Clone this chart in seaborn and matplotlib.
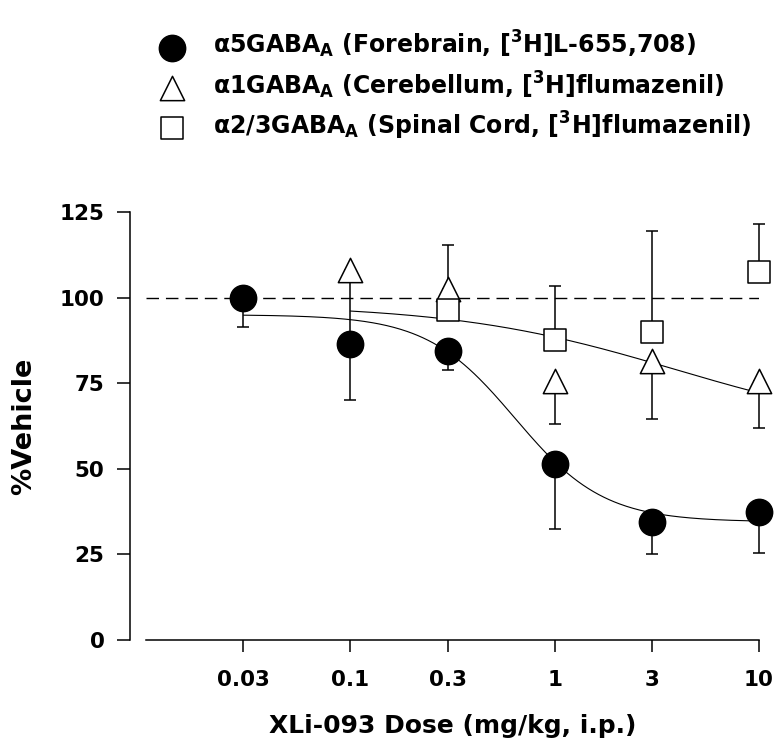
import numpy as np
import pandas as pd
import matplotlib
matplotlib.use("Agg")
import matplotlib.pyplot as plt
from matplotlib.ticker import NullLocator
import seaborn as sns

# Doses (mg/kg, i.p.) and receptor occupancy expressed as % of vehicle
dose_a5 = [0.03, 0.1, 0.3, 1, 3, 10]
mean_a5 = [100, 86.5, 84.5, 51.5, 34.5, 37.5]
low_a5 = [91.5, 70, 79, 32.5, 25, 25.5]

dose_a1 = [0.1, 0.3, 1, 3, 10]
mean_a1 = [108.0, 102.5, 75.5, 81.5, 75.5]
low_a1 = [87, 95, 63, 64.5, 62]

dose_a23 = [0.3, 1, 3, 10]
mean_a23 = [96.5, 87.5, 90, 107.5]
high_a23 = [115.5, 103.5, 119.5, 121.5]

# Sigmoidal (Hill) fit parameters for the two dose-response curves
fit_a5 = {"top": 95.0, "bottom": 34.5, "ec50": 0.64, "hill": 2.0, "start": 0.03, "stop": 10}
fit_a123 = {"top": 98.0, "bottom": 60.0, "ec50": 3.9, "hill": 0.8, "start": 0.1, "stop": 10}

x_ticks = [0.03, 0.1, 0.3, 1, 3, 10]
x_ticklabels = ["0.03", "0.1", "0.3", "1", "3", "10"]
y_ticks = [0, 25, 50, 75, 100, 125]

lab_a5 = r"α5GABA$_{A}$ (Forebrain, [$^{3}$H]L-655,708)"
lab_a1 = r"α1GABA$_{A}$ (Cerebellum, [$^{3}$H]flumazenil)"
lab_a23 = r"α2/3GABA$_{A}$ (Spinal Cord, [$^{3}$H]flumazenil)"
x_label = "XLi-093 Dose (mg/kg, i.p.)"
y_label = "%Vehicle"

sns.set_theme(style="ticks")
plt.rcParams["font.family"] = ["DejaVu Sans"]
plt.rcParams["font.weight"] = "bold"
plt.rcParams["mathtext.fontset"] = "dejavusans"
plt.rcParams["mathtext.default"] = "bf"
plt.rcParams["axes.linewidth"] = 1.1
for key in ("text.color", "axes.labelcolor", "axes.edgecolor",
            "xtick.color", "ytick.color"):
    plt.rcParams[key] = "black"

W, H = 775, 745
fig = plt.figure(figsize=(W / 100, H / 100), dpi=100)
ax = fig.add_axes([146 / W, 1 - 640 / H, (759 - 146) / W, (640 - 212) / H])
ax.set_xscale("log")


def hill_curve(p, n=300):
    xs = np.logspace(np.log10(p["start"]), np.log10(p["stop"]), n)
    ys = p["bottom"] + (p["top"] - p["bottom"]) / (1 + (xs / p["ec50"]) ** p["hill"])
    return pd.DataFrame({"dose": xs, "pct": ys})


# reference line at 100 % of vehicle
ref = ax.axhline(100, color="black", lw=1.0, zorder=1)
ref.set_dashes((9, 5))

# fitted curves
for p in (fit_a5, fit_a123):
    sns.lineplot(data=hill_curve(p), x="dose", y="pct", color="black",
                 lw=0.8, ax=ax, zorder=2, legend=False)

err_kw = dict(fmt="none", ecolor="black", elinewidth=1.1, capsize=4,
              capthick=1.1, zorder=2.5, clip_on=False, label="_nolegend_")
m5, l5 = np.array(mean_a5), np.array(low_a5)
ax.errorbar(dose_a5, m5, yerr=[m5 - l5, np.zeros_like(m5)], **err_kw)
m1, l1 = np.array(mean_a1), np.array(low_a1)
ax.errorbar(dose_a1, m1, yerr=[m1 - l1, np.zeros_like(m1)], **err_kw)
m23, h23 = np.array(mean_a23), np.array(high_a23)
ax.errorbar(dose_a23, m23, yerr=[np.zeros_like(m23), h23 - m23], **err_kw)

sns.scatterplot(x=dose_a5, y=mean_a5, marker="o", s=19 ** 2, color="black",
                edgecolor="black", linewidth=1.0, zorder=4, clip_on=False,
                label=lab_a5, ax=ax)
sns.scatterplot(x=dose_a1, y=mean_a1, marker="^", s=17.5 ** 2, color="white",
                edgecolor="black", linewidth=1.1, zorder=4, clip_on=False,
                label=lab_a1, ax=ax)
sns.scatterplot(x=dose_a23, y=mean_a23, marker="s", s=16.5 ** 2, color="white",
                edgecolor="black", linewidth=1.1, zorder=4, clip_on=False,
                label=lab_a23, ax=ax)

ax.set_xlim(0.01, 10)
ax.set_ylim(0, 125)
ax.set_xticks(x_ticks)
ax.set_xticklabels(x_ticklabels)
ax.xaxis.set_minor_locator(NullLocator())
ax.set_yticks(y_ticks)
ax.tick_params(axis="x", length=8.6, width=1.1, pad=13, labelsize=15.5)
ax.tick_params(axis="y", length=9.4, width=1.1, pad=9, labelsize=15.5)
for t in ax.get_xticklabels() + ax.get_yticklabels():
    t.set_fontweight("bold")

sns.despine(ax=ax)
ax.spines["left"].set_position(("outward", 11.5))

ax.set_xlabel(x_label, fontsize=18, fontweight="bold", labelpad=17)
ax.set_ylabel(y_label, fontsize=19.5, fontweight="bold", labelpad=16)

handles, labels = ax.get_legend_handles_labels()
ax.get_legend().remove()
fig.legend(handles, labels, loc="upper left",
           bbox_to_anchor=(154 / W, 1 - 29 / H), frameon=False,
           handlelength=1.5, handletextpad=1.0,
           labelspacing=0.38, borderpad=0, borderaxespad=0,
           prop={"weight": "bold", "size": 17})

fig.savefig("out.png", dpi=100)
